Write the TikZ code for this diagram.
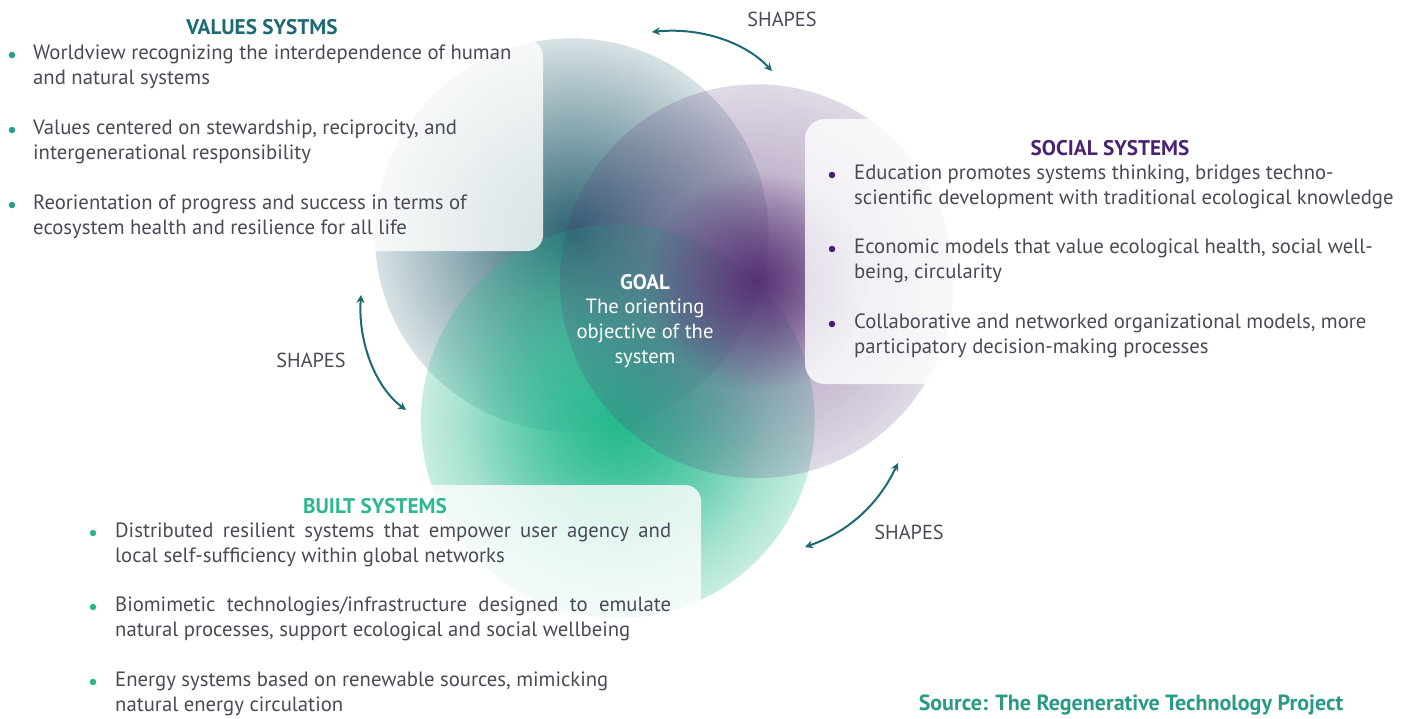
\documentclass[tikz,border=0pt]{standalone}
\usepackage{fontspec}
\setmainfont{PT Sans}
\usetikzlibrary{arrows.meta,fadings}
\definecolor{vdark}{HTML}{2B6271}
\definecolor{sdark}{HTML}{563275}
\definecolor{bdark}{HTML}{26BA8F}
\definecolor{tgrey}{HTML}{4A4A57}
\definecolor{vtitle}{HTML}{1D6A75}
\definecolor{stitle}{HTML}{4A2372}
\definecolor{btitle}{HTML}{2BB891}
\definecolor{srccol}{HTML}{2A9A86}
\definecolor{vbul}{HTML}{2A9D8F}
\definecolor{sbul}{HTML}{4B1A78}
\definecolor{bbul}{HTML}{2BB58E}
\definecolor{arrcol}{HTML}{1B6A72}
\tikzfading[name=vfade, inner color=transparent!0, outer color=transparent!82]
\tikzfading[name=sfadeout, inner color=transparent!45, outer color=transparent!82]
\tikzfading[name=sfadein, inner color=transparent!0, outer color=transparent!100]
\tikzfading[name=bfadeout, inner color=transparent!0, outer color=transparent!75]
\tikzfading[name=bfadein, inner color=transparent!50, outer color=transparent!100]
\begin{document}
\begin{tikzpicture}[x=1pt,y=-1pt,
  txt/.style={anchor=base west, inner sep=0pt, text=tgrey, font=\fontsize{20.7}{25}\selectfont},
  ttl/.style={anchor=center, inner sep=0pt, font=\fontsize{21.2}{25}\selectfont\bfseries},
  goaltxt/.style={anchor=base, inner sep=0pt, text=white, font=\fontsize{20.6}{25}\selectfont},
  shp/.style={anchor=center, inner sep=0pt, text=tgrey, font=\fontsize{20.3}{24}\selectfont},
  textbox/.style={fill=white, fill opacity=0.8},
  arr/.style={draw=arrcol, line width=2pt, {Stealth[length=8pt,width=8pt]}-{Stealth[length=8pt,width=8pt]}},
  bul/.style={circle, inner sep=0pt, minimum size=6.5pt}]
\useasboundingbox (0,0) rectangle (1409,718);
\fill[white] (0,0) rectangle (1409,718);
% circles
\fill[vdark, path fading=vfade] (572,235) circle (197);
\fill[bdark, path fading=bfadeout] (618,421) circle (197);
\fill[bdark, path fading=bfadein] (618,421) circle (150);
\fill[sdark, path fading=sfadeout] (757,281) circle (197);
\fill[sdark, path fading=sfadein] (757,281) circle (110);
% text boxes
\fill[textbox, rounded corners=16pt] (-40,40) rectangle (543,251);
\fill[textbox, rounded corners=20pt] (805,119) rectangle (1450,384);
\fill[textbox, rounded corners=16pt] (-40,485) rectangle (701,760);
% values
\node[ttl, text=vtitle] (vt) at (262,27) {VALUES SYSTMS};
\node[bul, fill=vbul] (vb1) at (12,55) {};
\node[bul, fill=vbul] (vb2) at (12,130) {};
\node[bul, fill=vbul] (vb3) at (12,205) {};
\node[txt] (v1) at (33,59) {Worldview recognizing the interdependence of human};
\node[txt] (v2) at (33,84) {and natural systems};
\node[txt] (v3) at (33,134) {Values centered on stewardship, reciprocity, and};
\node[txt] (v4) at (33,159) {intergenerational responsibility};
\node[txt] (v5) at (33,209) {Reorientation of progress and success in terms of};
\node[txt] (v6) at (33,234) {ecosystem health and resilience for all life};
% social
\node[ttl, text=stitle] (st) at (1110,148) {SOCIAL SYSTEMS};
\node[bul, fill=sbul] (sb1) at (832,175) {};
\node[bul, fill=sbul] (sb2) at (832,249) {};
\node[bul, fill=sbul] (sb3) at (832,324) {};
\node[txt] (s1) at (854,179) {Education promotes systems thinking, bridges techno-};
\node[txt] (s2) at (854,204) {scientific development with traditional ecological knowledge};
\node[txt] (s3) at (854,253) {Economic models that value ecological health, social well-};
\node[txt] (s4) at (854,278) {being, circularity};
\node[txt] (s5) at (854,328) {Collaborative and networked organizational models, more};
\node[txt] (s6) at (854,353) {participatory decision-making processes};
% built
\node[ttl, text=btitle] (bt) at (375,506) {BUILT SYSTEMS};
\node[bul, fill=bbul] (bb1) at (93,533) {};
\node[bul, fill=bbul] (bb2) at (93,607) {};
\node[bul, fill=bbul] (bb3) at (93,682) {};
\node[txt] (b1) at (115,537) {\makebox[556pt][s]{Distributed resilient systems that empower user agency and}};
\node[txt] (b2) at (115,562) {local self-sufficiency within global networks};
\node[txt] (b3) at (115,611) {\makebox[556pt][s]{Biomimetic technologies/infrastructure designed to emulate}};
\node[txt] (b4) at (115,636) {natural processes, support ecological and social wellbeing};
\node[txt] (b5) at (115,686) {Energy systems based on renewable sources, mimicking};
\node[txt] (b6) at (115,711) {natural energy circulation};
% goal
\node[ttl, text=white, font=\fontsize{21}{25}\selectfont\bfseries] (g0) at (645,282) {GOAL};
\node[goaltxt] (g1) at (645,313) {The orienting};
\node[goaltxt] (g2) at (645,338) {objective of the};
\node[goaltxt] (g3) at (645,363) {system};
% shapes labels
\node[shp] (sh1) at (782,19) {SHAPES};
\node[shp] (sh2) at (311,360) {SHAPES};
\node[shp] (sh3) at (909,532) {SHAPES};
% arrows
\coordinate (a1s) at (652,32);
\coordinate (a1e) at (772,71);
\coordinate (a2s) at (361,295);
\coordinate (a2e) at (406,410);
\coordinate (a3s) at (898,463);
\coordinate (a3e) at (805,547);
\draw[arr] (a1s) .. controls (700,27) and (745,42) .. (a1e);
\draw[arr] (a2s) .. controls (358,340) and (374,386) .. (a2e);
\draw[arr] (a3s) .. controls (878,505) and (848,532) .. (a3e);
% source
\node[anchor=base, inner sep=0pt, text=srccol, font=\fontsize{22}{26}\selectfont\bfseries] (src) at (1131,710) {Source: The Regenerative Technology Project};
\end{tikzpicture}
\end{document}
